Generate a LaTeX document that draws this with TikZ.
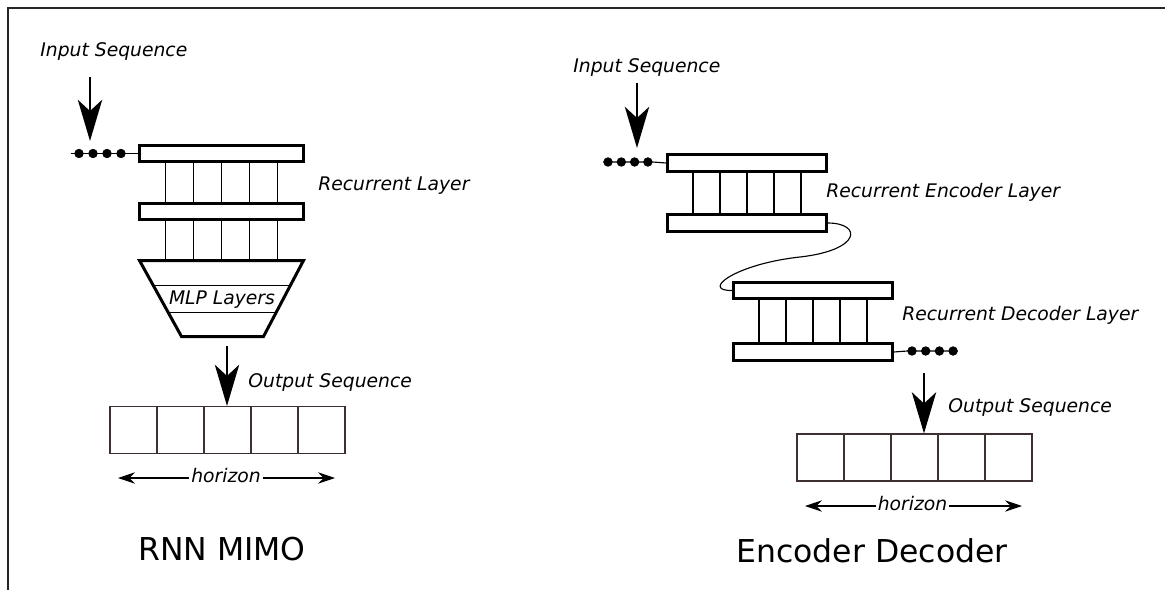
\documentclass[tikz,border=0pt]{standalone}
\usepackage{fontspec}
\setmainfont{DejaVu Sans}
\usepackage{tikz}
\usetikzlibrary{arrows.meta,calc}
\definecolor{cellbrown}{RGB}{62,48,48}

\begin{document}
\begin{tikzpicture}[x=0.01875cm,y=-0.01875cm,
  layerbox/.style={draw,line width=1.6pt,minimum width=2.97cm,minimum height=0.31cm,inner sep=0},
  cell/.style={draw=cellbrown,line width=0.6pt,minimum size=0.881cm,inner sep=0},
  seqdot/.style={circle,fill=black,draw=black,line width=0.4pt,inner sep=0,minimum size=0.16cm},
  lbl/.style={font=\itshape,inner sep=0},
  headline/.style={font=\fontsize{16.8}{20}\selectfont,inner sep=0},
  wire/.style={line width=0.6pt},
  bigarrow/.style={line width=1.1pt,-{Stealth[length=22pt,width=13pt,inset=6pt]}},
  hzarrow/.style={line width=0.55pt,-{Stealth[length=9pt,width=6pt,inset=3pt]}}]
\useasboundingbox (0,0) rectangle (1165,590);
\draw[line width=1pt,black!85] (8,590) -- (8,8) -- (1165,8);

\node[lbl,anchor=base west] (inLtxt) at (40,56) {Input Sequence};
\coordinate (inL) at (90,77); \coordinate (inLtip) at (90,141);
\draw[bigarrow] (inL) -- (inLtip);
\node[layerbox,minimum width=3.08cm] (rnnA) at (221.5,153.5) {};
\node[layerbox,minimum width=3.08cm] (rnnB) at (221.5,211.5) {};
\foreach \i in {1,...,4} \node[seqdot] (dL\i) at (65+14*\i,153.5) {};
\draw[wire] ([xshift=-2pt]dL1.west) -- (rnnA.west);
\coordinate (mlpTL) at (139.5,260.5); \coordinate (mlpTR) at (303.5,260.5);
\coordinate (mlpBR) at (263.5,336.5); \coordinate (mlpBL) at (181.5,336.5);
\coordinate (mlpT) at ($(mlpTL)!.5!(mlpTR)$);
\foreach \k in {-2,...,2} {
  \draw[wire] ($(rnnA.south)+(\k*27.8,0)$) -- ($(rnnB.north)+(\k*27.8,0)$);
  \draw[wire] ($(rnnB.south)+(\k*27.8,0)$) -- ($(mlpT)+(\k*27.8,0)$);
}
\draw[line width=1.6pt,line join=miter] (mlpTL) -- (mlpTR) -- (mlpBR) -- (mlpBL) -- cycle;
\draw[wire] ($(mlpTL)!.33!(mlpBL)$) -- ($(mlpTR)!.33!(mlpBR)$);
\draw[wire] ($(mlpTL)!.68!(mlpBL)$) -- ($(mlpTR)!.68!(mlpBR)$);
\node[lbl,anchor=base] (mlpTxt) at (222,304) {MLP Layers};
\node[lbl,anchor=base west] (recL) at (318,190) {Recurrent Layer};
\foreach \i in {1,...,5} \node[cell] (outL\i) at (86.5+47*\i,430) {};
\coordinate (outLtop) at (227,346);
\draw[bigarrow] (outLtop) -- (outLtop |- outL3.north);
\node[lbl,anchor=base west] (outLtxt) at (248,387) {Output Sequence};
\node[lbl,anchor=base,inner sep=1pt] (horL) at (226,482) {horizon};
\coordinate (hLa) at (118,478); \coordinate (hLb) at (335,478);
\draw[hzarrow] (horL.west |- hLa) -- (hLa); \draw[hzarrow] (horL.east |- hLb) -- (hLb);
\node[headline,anchor=base] (rnnTitle) at (222,560) {RNN MIMO};

\node[lbl,anchor=base west] (inRtxt) at (573,72) {Input Sequence};
\coordinate (inR) at (637,83); \coordinate (inRtip) at (637,148);
\draw[bigarrow] (inR) -- (inRtip);
\node[layerbox] (encA) at (747,163) {};
\node[layerbox] (encB) at (747,223) {};
\foreach \i in {1,...,4} \node[seqdot] (dE\i) at (594.7+13.3*\i,162) {};
\draw[wire] (dE1.west) -- (dE4.east) -- (encA.west);
\foreach \k in {-2,...,2} \draw[wire] ($(encA.south)+(\k*27,0)$) -- ($(encB.north)+(\k*27,0)$);
\node[lbl,anchor=base west] (encTxt) at (826,197) {Recurrent Encoder Layer};
\node[layerbox] (decA) at (813,290.5) {};
\node[layerbox] (decB) at (813,352) {};
\foreach \k in {-2,...,2} \draw[wire] ($(decA.south)+(\k*27,0)$) -- ($(decB.north)+(\k*27,0)$);
\foreach \i in {1,...,4} \node[seqdot] (dD\i) at (898.3+13.7*\i,351) {};
\draw[wire] (decB.east) -- (dD1.west) -- (dD4.east);
\coordinate (bend) at (800,257);
\draw[wire] (encB.east) .. controls (862,223) and (862,250) .. (bend) .. controls (735,264) and (700,291) .. (decA.west);
\node[lbl,anchor=base west] (decTxt) at (902,320) {Recurrent Decoder Layer};
\foreach \i in {1,...,5} \node[cell] (outR\i) at (773.5+47*\i,457.5) {};
\coordinate (outRtop) at (924,373);
\draw[bigarrow] (outRtop) -- (outRtop |- outR3.north);
\node[lbl,anchor=base west] (outRtxt) at (948,412) {Output Sequence};
\node[lbl,anchor=base,inner sep=1pt] (horR) at (912.5,510) {horizon};
\coordinate (hRa) at (805,506); \coordinate (hRb) at (1022,506);
\draw[hzarrow] (horR.west |- hRa) -- (hRa); \draw[hzarrow] (horR.east |- hRb) -- (hRb);
\node[headline,anchor=base] (edTitle) at (872,562) {Encoder Decoder};
\end{tikzpicture}
\end{document}
